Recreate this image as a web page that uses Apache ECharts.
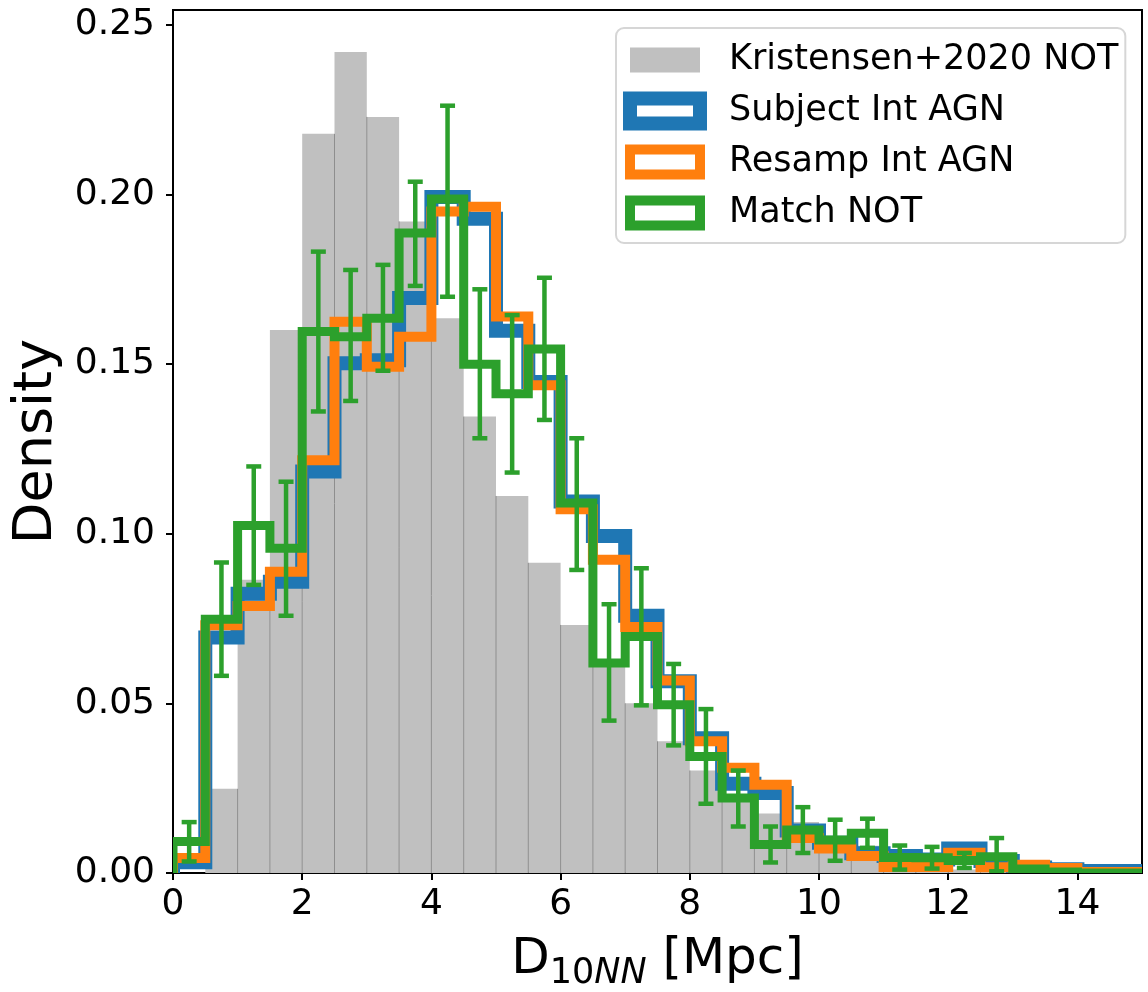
<!DOCTYPE html>
<html>
<head>
<meta charset="utf-8">
<script src="https://cdn.jsdelivr.net/npm/echarts@6/dist/echarts.min.js"></script>
<style>
  html, body { margin: 0; padding: 0; background: #fff; }
  #main { width: 1148px; height: 992px; }
</style>
</head>
<body>
<div id="main"></div>
<script>
// bin edges, D10NN [Mpc]
const binEdges = [0, 0.5, 1, 1.5, 2, 2.5, 3, 3.5, 4, 4.5, 5, 5.5, 6, 6.5, 7, 7.5,
  8, 8.5, 9, 9.5, 10, 10.5, 11, 11.5, 12, 12.5, 13, 13.5, 14, 14.5, 15];

// densities per bin
const kristensenNOT = [0, 0.0248, 0.0864, 0.160, 0.2178, 0.2419, 0.2228, 0.192, 0.1635, 0.1345,
  0.1111, 0.0914, 0.0731, 0.061, 0.050, 0.0388, 0.0302, 0.023, 0.0175, 0.015,
  0.0105, 0.008, 0.0022, 0.0012, 0.001, 0.0008, 0.0006, 0.0005, 0.0003, 0.0002];
const subjectIntAGN = [0.0032, 0.0694, 0.0823, 0.0858, 0.1183, 0.1502, 0.1511, 0.1694, 0.1992, 0.1928,
  0.1598, 0.1447, 0.1095, 0.0993, 0.0758, 0.0565, 0.0397, 0.0263, 0.0236, 0.0125,
  0.0089, 0.0058, 0.005, 0.004, 0.0072, 0.0035, 0.0016, 0.0011, 0.0006, 0.0006];
const resampIntAGN = [0.0044, 0.073, 0.0787, 0.0888, 0.1216, 0.1624, 0.1492, 0.158, 0.1949, 0.1963,
  0.164, 0.1437, 0.1072, 0.0923, 0.0725, 0.0567, 0.0388, 0.031, 0.026, 0.0103,
  0.0072, 0.005, 0.0018, 0.0018, 0.006, 0.0017, 0.0024, 0.0015, 0.0003, 0.0003];
const matchNOT = [0.0093, 0.0748, 0.1024, 0.0957, 0.1596, 0.158, 0.1635, 0.1886, 0.1986, 0.1499,
  0.1412, 0.1544, 0.109, 0.0619, 0.0697, 0.0496, 0.0343, 0.0221, 0.0084, 0.0127,
  0.0097, 0.0117, 0.0046, 0.0045, 0.0037, 0.0048, 0.0012, 0.0003, 0, 0];

// error bars of Match NOT (bin centres, low, high)
const errCentres = [0.25, 0.75, 1.25, 1.75, 2.25, 2.75, 3.25, 3.75, 4.25, 4.75, 5.25, 5.75, 6.25,
  6.75, 7.25, 7.75, 8.25, 8.75, 9.25, 9.75, 10.25, 10.75, 11.25, 11.75, 12.25, 12.75];
const errLow = [0.0034, 0.0581, 0.0849, 0.0758, 0.136, 0.1391, 0.148, 0.173, 0.1698, 0.1281, 0.118, 0.1335, 0.0893,
  0.0449, 0.0494, 0.0376, 0.0204, 0.0137, 0.0031, 0.0059, 0.0036, 0.0074, 0.001, 0.0013, 0.0015, 0.0005];
const errHigh = [0.015, 0.0915, 0.1198, 0.1153, 0.1831, 0.1777, 0.1792, 0.2037, 0.2261, 0.172, 0.1644, 0.1754, 0.1281,
  0.0792, 0.0898, 0.0616, 0.0483, 0.0302, 0.0137, 0.0194, 0.0157, 0.016, 0.0081, 0.0077, 0.0059, 0.0103];

const xTicks = [0, 2, 4, 6, 8, 10, 12, 14];
const yTicks = [0, 0.05, 0.10, 0.15, 0.20, 0.25];

const FONT = 'DejaVu Sans';

function stepPoints(vals) {
  const pts = [[binEdges[0], 0]];
  vals.forEach(function (v, i) {
    pts.push([binEdges[i], v]);
    pts.push([binEdges[i + 1], v]);
  });
  pts.push([binEdges[binEdges.length - 1], 0]);
  return pts;
}

const barData = kristensenNOT.map(function (v, i) {
  return [binEdges[i], binEdges[i + 1], v, i > 0 ? kristensenNOT[i - 1] : 0];
});
const errData = errCentres.map(function (x, i) {
  return [x, errLow[i], errHigh[i]];
});

// step outline drawn as one polyline, clipped to the plot area
function stepSeries(name, vals, color, width) {
  const pts = stepPoints(vals);
  return {
    name: name,
    type: 'custom',
    data: pts,
    encode: { x: 0, y: 1 },
    clip: true,
    itemStyle: { color: color },
    renderItem: function (params, api) {
      if (params.dataIndex !== 0) return null;
      return {
        type: 'polyline',
        shape: { points: pts.map(function (p) { return api.coord(p); }) },
        style: { stroke: color, lineWidth: width, fill: null, lineJoin: 'miter', lineCap: 'butt' }
      };
    }
  };
}

const chart = echarts.init(document.getElementById('main'), null, { renderer: 'canvas' });

const option = {
  animation: false,
  backgroundColor: '#ffffff',
  grid: {
    left: 173, top: 10, width: 969, height: 863,
    outerBoundsMode: 'none', containLabel: false,
    show: true, borderColor: '#000', borderWidth: 2, backgroundColor: 'transparent'
  },
  legend: {
    left: 616, top: 28,
    orient: 'vertical',
    selectedMode: false,
    itemWidth: 70, itemHeight: 25, itemGap: 11,
    padding: [12, 7, 10, 7],
    backgroundColor: '#fff',
    borderColor: '#d6d6d6', borderWidth: 2, borderRadius: 8,
    textStyle: { fontFamily: FONT, fontSize: 35, color: '#000', lineHeight: 40, padding: [0, 0, 0, 24] },
    data: [
      { name: 'Kristensen+2020 NOT', icon: 'rect', itemStyle: { color: '#c0c0c0', borderWidth: 0 } },
      { name: 'Subject Int AGN', icon: 'rect', itemStyle: { color: '#fff', borderColor: '#1f77b4', borderWidth: 14 } },
      { name: 'Resamp Int AGN', icon: 'rect', itemStyle: { color: '#fff', borderColor: '#ff7f0e', borderWidth: 10 } },
      { name: 'Match NOT', icon: 'rect', itemStyle: { color: '#fff', borderColor: '#2ca02c', borderWidth: 10 } }
    ]
  },
  xAxis: {
    type: 'value', min: 0, max: 15, interval: 2,
    splitLine: { show: false },
    axisLine: { show: true, onZero: false, lineStyle: { color: '#000', width: 2 } },
    axisTick: { show: true, inside: false, length: 7, lineStyle: { color: '#000', width: 2 }, customValues: xTicks },
    axisLabel: { fontFamily: FONT, fontSize: 36, color: '#000', margin: 14, customValues: xTicks },
    name: '{a|D}{b|10}{c|NN}{a| [Mpc]}',
    nameLocation: 'middle', nameGap: 54,
    nameTextStyle: {
      fontFamily: FONT, fontSize: 50, color: '#000',
      rich: {
        a: { fontFamily: FONT, fontSize: 50, lineHeight: 60, color: '#000' },
        b: { fontFamily: FONT, fontSize: 35, lineHeight: 35, padding: [29, 0, 0, 0], color: '#000' },
        c: { fontFamily: FONT, fontSize: 35, lineHeight: 35, fontStyle: 'italic', padding: [29, 0, 0, 0], color: '#000' }
      }
    }
  },
  yAxis: {
    type: 'value', min: 0, max: 0.2543, interval: 0.05,
    splitLine: { show: false },
    axisLine: { show: true, onZero: false, lineStyle: { color: '#000', width: 2 } },
    axisTick: { show: true, inside: false, length: 7, lineStyle: { color: '#000', width: 2 }, customValues: yTicks },
    axisLabel: {
      fontFamily: FONT, fontSize: 36, color: '#000', margin: 18, customValues: yTicks,
      formatter: function (v) { return v.toFixed(2); }
    },
    name: 'Density',
    nameLocation: 'middle', nameGap: 106,
    nameTextStyle: { fontFamily: FONT, fontSize: 54, color: '#000' }
  },
  series: [
    {
      name: 'Kristensen+2020 NOT',
      type: 'custom',
      data: barData,
      encode: { x: [0, 1], y: 2 },
      itemStyle: { color: '#c0c0c0' },
      renderItem: function (params, api) {
        const x0 = api.value(0), x1 = api.value(1), h = api.value(2), hPrev = api.value(3);
        const pTop = api.coord([x0, h]);
        const pBot = api.coord([x1, 0]);
        const edgeTop = api.coord([x0, Math.min(h, hPrev)]);
        const children = [{
          type: 'rect',
          shape: { x: pTop[0], y: pTop[1], width: pBot[0] - pTop[0], height: pBot[1] - pTop[1] },
          style: { fill: '#c0c0c0' }
        }];
        if (x0 > 0 && Math.min(h, hPrev) > 0) {
          children.push({
            type: 'line',
            shape: { x1: pTop[0], y1: edgeTop[1], x2: pTop[0], y2: pBot[1] },
            style: { stroke: '#8e8e8e', lineWidth: 1 }
          });
        }
        return { type: 'group', children: children };
      }
    },
    stepSeries('Subject Int AGN', subjectIntAGN, '#1f77b4', 14),
    stepSeries('Resamp Int AGN', resampIntAGN, '#ff7f0e', 10),
    stepSeries('Match NOT', matchNOT, '#2ca02c', 9),
    {
      name: 'Match NOT errors',
      type: 'custom',
      data: errData,
      encode: { x: 0, y: [1, 2] },
      clip: true,
      renderItem: function (params, api) {
        const x = api.value(0);
        const top = api.coord([x, api.value(2)]);
        const bot = api.coord([x, api.value(1)]);
        const cap = 7.5;
        const st = { stroke: '#2ca02c', lineWidth: 4.5 };
        return {
          type: 'group',
          children: [
            { type: 'line', shape: { x1: top[0], y1: top[1], x2: bot[0], y2: bot[1] }, style: st },
            { type: 'line', shape: { x1: top[0] - cap, y1: top[1], x2: top[0] + cap, y2: top[1] }, style: st },
            { type: 'line', shape: { x1: bot[0] - cap, y1: bot[1], x2: bot[0] + cap, y2: bot[1] }, style: st }
          ]
        };
      }
    }
  ]
};

chart.setOption(option);
</script>
</body>
</html>
